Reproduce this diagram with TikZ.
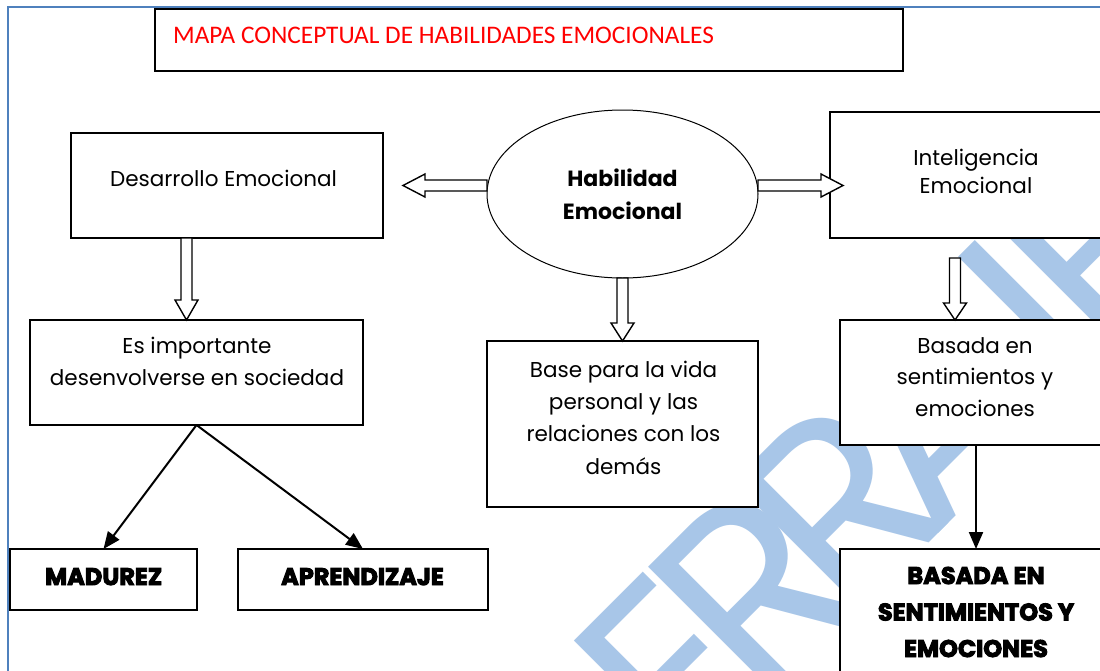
\documentclass[tikz,border=0pt]{standalone}
\usepackage{fontspec}
\setmainfont{Poppins}
\newfontfamily\titlefont{Carlito}
\newfontfamily\heavyfont{Poppins}[BoldFeatures={FakeBold=4}]
\newfontfamily\wmfont{Poppins}
\usetikzlibrary{shapes.geometric,calc,arrows.meta}
\definecolor{frameblue}{RGB}{79,129,189}
\definecolor{wmblue}{RGB}{168,198,232}
\newcommand\bodyfnt[1]{\fontsize{21.5}{#1}\selectfont}
\newcommand\blockarrow[3]{%
  \coordinate (bah) at ($(#2)!#3!(#1)$);
  \draw[hollow] ($(#1)!5.5pt!90:(#2)$) -- ($(bah)!5.5pt!90:(#2)$) -- ($(bah)!11.5pt!90:(#2)$) -- (#2)
     -- ($(bah)!11.5pt!-90:(#2)$) -- ($(bah)!5.5pt!-90:(#2)$) -- ($(#1)!5.5pt!-90:(#2)$) -- cycle;}
\begin{document}
\begin{tikzpicture}[x=1pt,y=-1pt,
  box/.style={draw=black, line width=2pt, fill=white, inner sep=0pt, outer sep=0pt},
  lbl/.style={inner sep=0pt, align=center, anchor=base, text=black},
  heavy/.style={lbl, font=\heavyfont\bfseries\fontsize{24}{36.5}\selectfont},
  hollow/.style={draw=black, line width=1.4pt, fill=white, line join=miter},
  conn/.style={draw=black, line width=2pt, -{Triangle[length=17pt,width=14pt]}},
  wm/.style={text=wmblue, inner sep=0pt, rotate=45, anchor=base west, font=\wmfont\fontsize{260}{260}\selectfont}]
\fill[white] (0,0) rectangle (1100,670);
\useasboundingbox (0,0) rectangle (1100,670);
\clip (0,0) rectangle (1100,670);
\draw[frameblue, line width=2pt] (8,672) -- (8,7) -- (1102,7);
% watermark
\node[wm] (wm1) at (688,784) {E};
\node[wm] (wm2) at (762,710) {R};
\node[wm] (wm3) at (847,625) {R};
\node[wm] (wm4) at (932,540) {A};
\node[wm] (wm5) at (1072,400) {I};
\node[wm] (wm6) at (1107,365) {F};
% title
\node[box, minimum width=748pt, minimum height=62pt] (title) at (529,40) {};
\node[lbl, anchor=base west, text=red, font=\titlefont\fontsize{25.3}{30}\selectfont] (titlet) at (173,43) {MAPA CONCEPTUAL DE HABILIDADES EMOCIONALES};
% boxes
\node[box, minimum width=312pt, minimum height=105pt] (des) at (227,185.5) {};
\node[lbl, font=\bodyfnt{32}] (dest) at (223.5,186) {Desarrollo Emocional};
\node[box, draw=black, ellipse, line width=1pt, minimum width=271pt, minimum height=168pt, align=center,
      font=\bfseries\fontsize{22}{33}\selectfont] (hab) at (622.5,194) {Habilidad\\Emocional};
\node[box, minimum width=290pt, minimum height=126pt] (int) at (975,175) {};
\node[lbl, font=\bodyfnt{28}] (intt) at (976,193) {Inteligencia\\Emocional};
\node[box, minimum width=333pt, minimum height=105pt] (esimp) at (196.5,372.5) {};
\node[lbl, font=\bodyfnt{32}] (esimpt) at (197,385) {Es importante\\desenvolverse en sociedad};
\node[box, minimum width=271pt, minimum height=166pt] (base) at (622.5,424) {};
\node[lbl, font=\bodyfnt{32.3}] (baset) at (623.5,474) {Base para la vida\\personal y las\\relaciones con los\\demás};
\node[box, minimum width=272pt, minimum height=125pt] (bas) at (976,382.5) {};
\node[lbl, font=\bodyfnt{31.5}] (bast) at (975,416) {Basada en\\sentimientos y\\emociones};
\node[box, minimum width=187pt, minimum height=61pt] (mad) at (103.5,579.5) {};
\node[heavy] (madt) at (103.7,585) {MADUREZ};
\node[box, minimum width=250pt, minimum height=61pt] (apr) at (363,579.5) {};
\node[heavy] (aprt) at (362.5,585) {APRENDIZAJE};
\node[box, minimum width=272pt, minimum height=160pt] (basbig) at (976,629) {};
\node[heavy] (basbigt) at (976,657) {BASADA EN\\SENTIMIENTOS Y\\EMOCIONES};
% hollow arrows
\coordinate (a1s) at (hab.west |- des.east);
\coordinate (a1t) at ($(des.east)+(20,0)$);
\blockarrow{a1s}{a1t}{22pt}
\coordinate (a2s) at (hab.east |- des.east);
\coordinate (a2t) at ($(int.west |- des.east)+(13,0)$);
\blockarrow{a2s}{a2t}{22pt}
\coordinate (a3s) at (hab.south);
\coordinate (a3t) at (base.north);
\blockarrow{a3s}{a3t}{18pt}
\coordinate (a4s) at ($(des.south)+(-40.5,0)$);
\coordinate (a4t) at (a4s |- esimp.north);
\blockarrow{a4s}{a4t}{20pt}
\coordinate (a5s) at ($(int.south)+(-20,20)$);
\coordinate (a5t) at (a5s |- bas.north);
\blockarrow{a5s}{a5t}{17pt}
% solid arrows
\draw[conn] (esimp.south) -- (mad.north);
\draw[conn] (esimp.south) -- (apr.north);
\draw[conn] (bas.south) -- (basbig.north);
\end{tikzpicture}
\end{document}
